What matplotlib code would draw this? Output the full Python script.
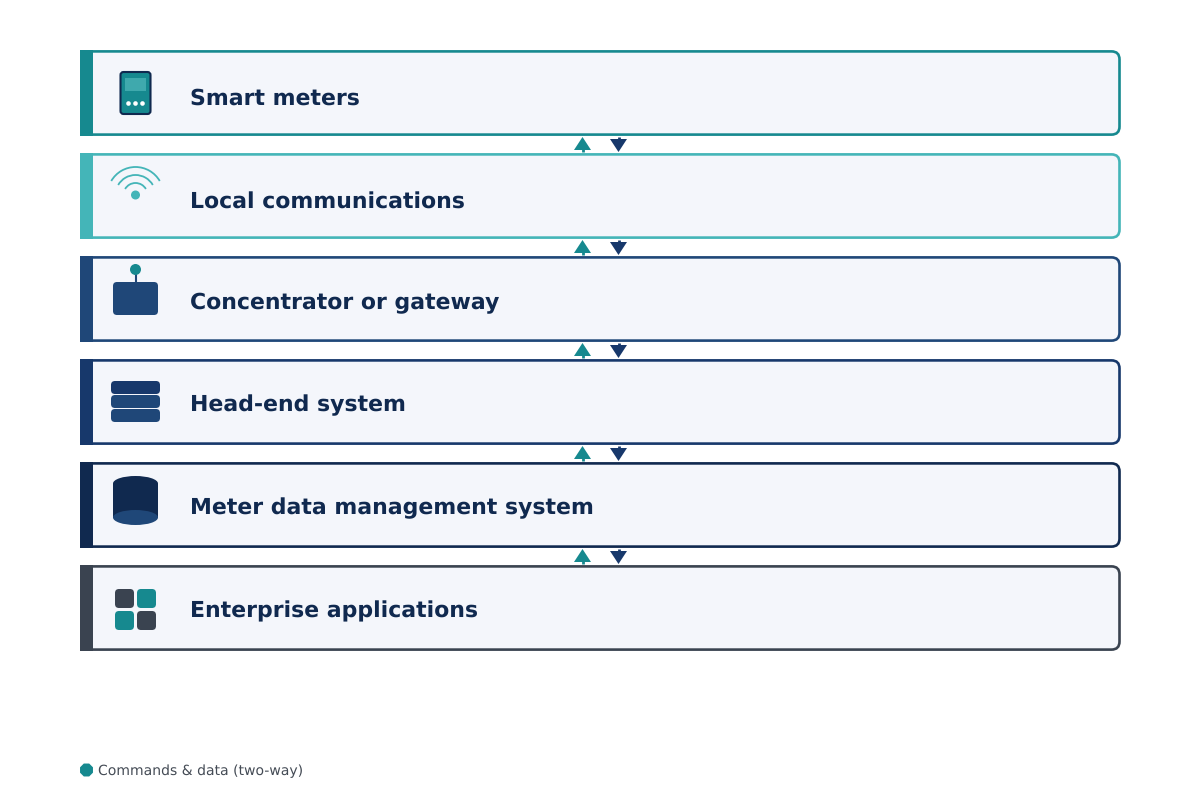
import numpy as np
import matplotlib
matplotlib.use('Agg')
import matplotlib.pyplot as plt
from matplotlib.patches import Rectangle, FancyBboxPatch, Circle, Ellipse, Arc, Polygon, RegularPolygon

plt.rcParams['text.hinting'] = 'no_hinting'

layers = ['Smart meters', 'Local communications', 'Concentrator or gateway',
          'Head-end system', 'Meter data management system', 'Enterprise applications']
layer_colors = ['#16898f', '#44b5b8', '#1f4778', '#17386b', '#10294f', '#3a4350']
legend_label = 'Commands & data (two-way)'

TEAL = '#16898f'
LIGHT_TEAL = '#44b5b8'
BLUE = '#1f4778'
NAVY = '#17386b'
DARK = '#10294f'
SLATE = '#3a4350'

LEFT, RIGHT = 80, 1119.5
TOP, BOX_H, PITCH = 51, 83.2, 103
STRIPE = 13
ICON_X = 135.5
# baseline of each label below the top of its box
baselines = [54, 54.3, 52, 51, 51, 51]

fig = plt.figure(figsize=(12, 8), dpi=100)
ax = fig.add_axes([0, 0, 1, 1])
ax.set_xlim(0, 1200)
ax.set_ylim(800, 0)
ax.axis('off')


def rbox(x, y, w, h, r, **kw):
    ax.add_patch(FancyBboxPatch((x + r, y + r), w - 2 * r, h - 2 * r,
                                boxstyle=f'round,pad={r},rounding_size={r}', **kw))


def meter_icon(y):
    rbox(ICON_X - 15, y + 21, 30, 42, 3, fc=TEAL, ec=DARK, lw=1.5, zorder=3)
    ax.add_patch(Rectangle((ICON_X - 10.5, y + 27), 21, 13, fc='#3fa9ad', ec='none', zorder=4))
    for dx in (-7, 0, 7):
        ax.add_patch(Circle((ICON_X + dx, y + 52.5), 2.3, fc='white', ec='none', zorder=4))


def wifi_icon(y):
    cy = y + 41
    for r in (12, 20, 28):
        ax.add_patch(Arc((ICON_X, cy), 2 * r, 2 * r, theta1=210, theta2=330,
                         ec=LIGHT_TEAL, lw=1.3, zorder=3))
    ax.add_patch(Circle((ICON_X, cy), 4.5, fc=LIGHT_TEAL, ec='none', zorder=4))


def gateway_icon(y):
    rbox(ICON_X - 22.5, y + 25, 45, 33, 4, fc=BLUE, ec='none', zorder=3)
    ax.plot([ICON_X, ICON_X], [y + 13, y + 25], color=BLUE, lw=1.5, zorder=3, solid_capstyle='butt')
    ax.add_patch(Circle((ICON_X, y + 12.5), 5.5, fc=TEAL, ec='none', zorder=4))


def server_icon(y):
    for off, c in ((21, NAVY), (35, BLUE), (49, BLUE)):
        rbox(ICON_X - 24.5, y + off, 49, 13, 4, fc=c, ec='none', zorder=3)


def database_icon(y):
    ax.add_patch(Rectangle((ICON_X - 22.5, y + 20.5), 45, 34, fc=DARK, ec='none', zorder=3))
    ax.add_patch(Ellipse((ICON_X, y + 20.5), 45, 15, fc=DARK, ec='none', zorder=3))
    ax.add_patch(Ellipse((ICON_X, y + 54.5), 45, 15, fc=BLUE, ec='none', zorder=4))


def apps_icon(y):
    for dx, dy, c in ((-20.5, 23, SLATE), (1.5, 23, TEAL), (-20.5, 45, TEAL), (1.5, 45, SLATE)):
        rbox(ICON_X + dx, y + dy, 19, 19, 4, fc=c, ec='none', zorder=3)


icons = [meter_icon, wifi_icon, gateway_icon, server_icon, database_icon, apps_icon]

for i, (name, color) in enumerate(zip(layers, layer_colors)):
    y = TOP + i * PITCH
    rbox(LEFT + 2, y + 0.4, RIGHT - LEFT - 2, BOX_H, 8, fc='#f4f6fb', ec=color, lw=1.9, zorder=1)
    ax.add_patch(Rectangle((LEFT, y - 1), STRIPE, 86, fc=color, ec='none', zorder=2))
    icons[i](y)
    ax.text(190, y + baselines[i], name, fontsize=15.84, fontweight='bold', color=DARK,
            va='baseline', ha='left', zorder=5)

    if i < len(layers) - 1:
        ay = y + 83
        ax.add_patch(Polygon([(574, ay + 16), (591, ay + 16), (582.5, ay + 3)], fc=TEAL, ec='none', zorder=3))
        ax.plot([582.5, 582.5], [ay + 15, ay + 18], color=TEAL, lw=2, zorder=3, solid_capstyle='butt')
        ax.add_patch(Polygon([(610, ay + 5), (627, ay + 5), (618.5, ay + 18)], fc=NAVY, ec='none', zorder=3))
        ax.plot([618.5, 618.5], [ay + 3, ay + 6], color=NAVY, lw=2, zorder=3, solid_capstyle='butt')

ax.add_patch(RegularPolygon((86.5, 770), 8, radius=7, orientation=np.pi / 8, fc=TEAL, ec='none'))
ax.text(98, 775, legend_label, fontsize=10.08, color='#444b55', va='baseline', ha='left')

fig.savefig('out.png', dpi=100, facecolor='white')
